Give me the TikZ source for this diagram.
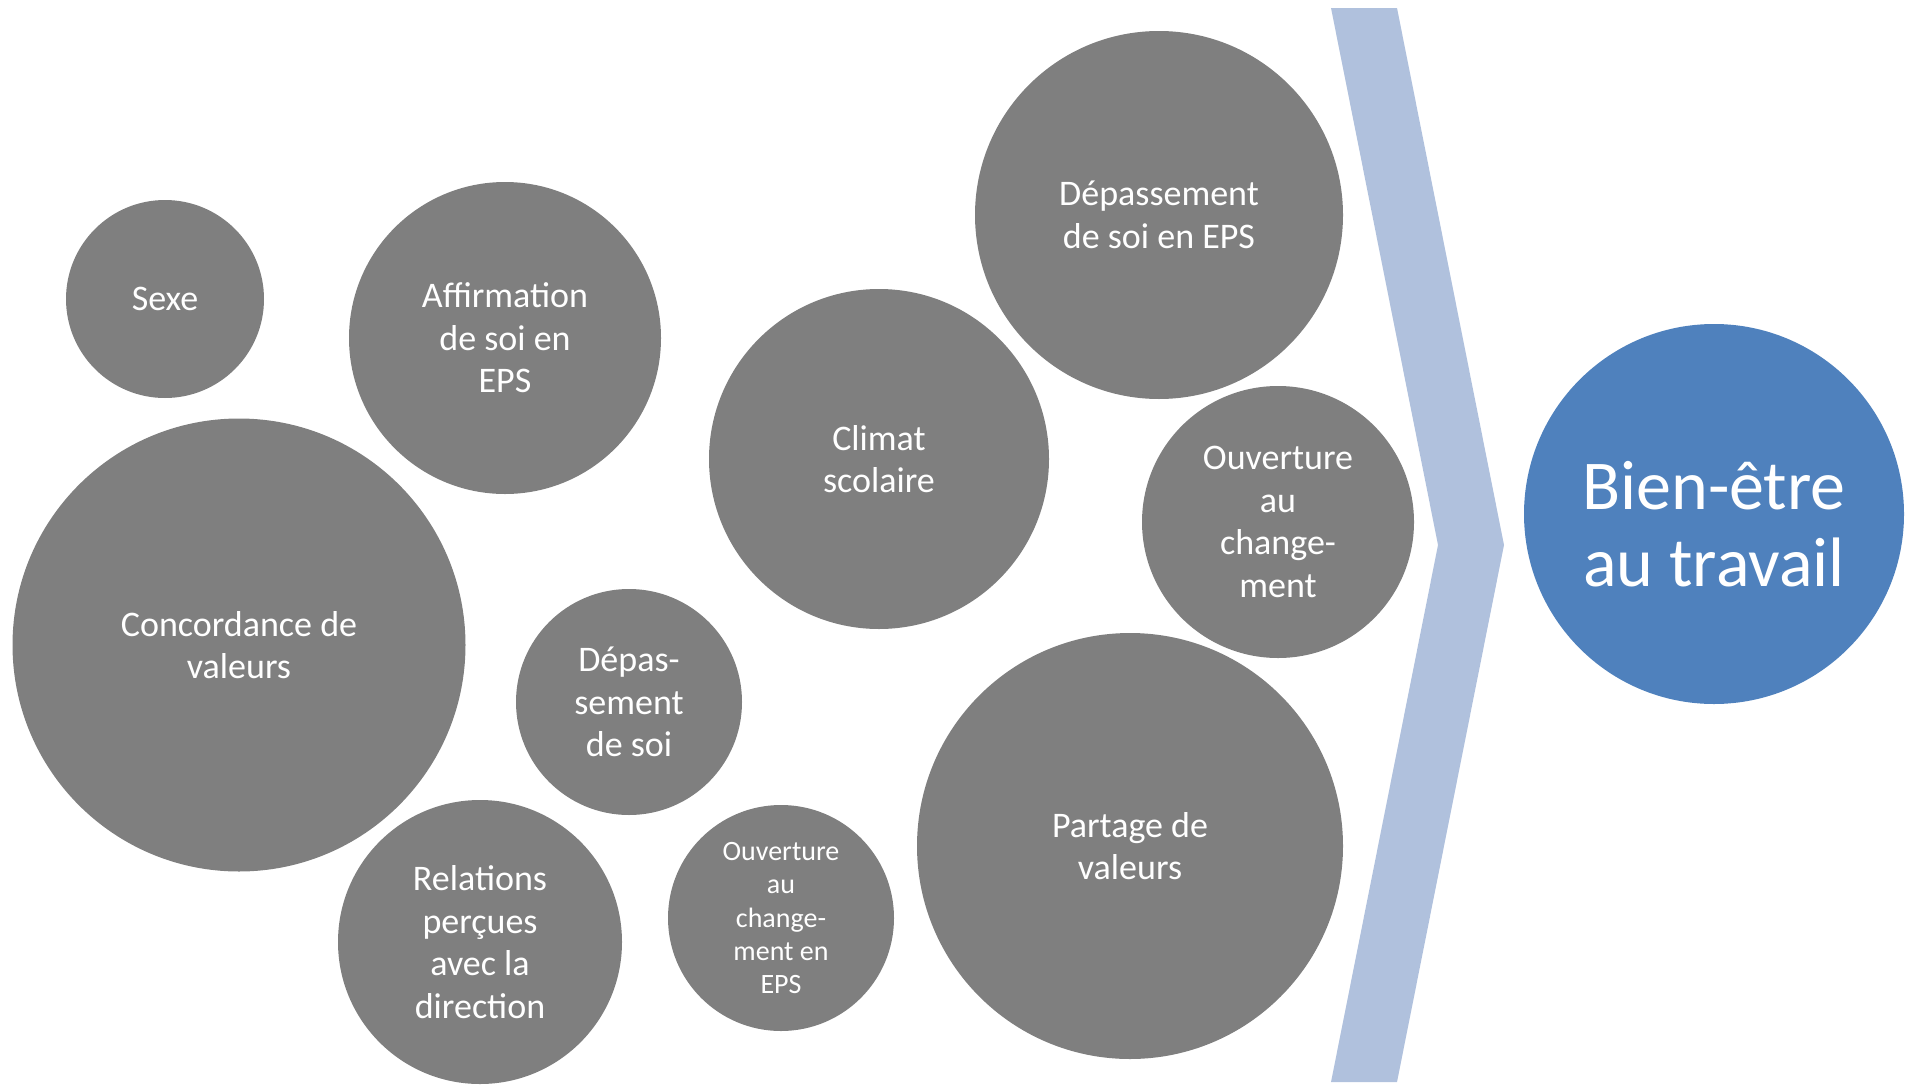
\documentclass[tikz,border=0pt]{standalone}
\usepackage{fontspec}
\setmainfont{Carlito}
\definecolor{bubgray}{HTML}{7F7F7F}
\definecolor{chevblue}{HTML}{B0C1DD}
\definecolor{mainblue}{HTML}{4F81BD}
\tikzset{
  bubble/.style={circle, fill=bubgray, draw=none, inner sep=0pt, outer sep=0pt,
    text=white, align=center, font={\fontsize{36}{42.5}\selectfont}},
  smallbubble/.style={bubble, font={\fontsize{28}{33.4}\selectfont}},
  bigbubble/.style={bubble, fill=mainblue, font={\fontsize{70}{77}\selectfont}},
}
\begin{document}
\begin{tikzpicture}[x=1pt,y=-1pt]
\useasboundingbox (0,0) rectangle (1905,1084);
% chevron
\fill[chevblue] (1331,8) -- (1397,8) -- (1504,545) -- (1397,1082) -- (1331,1082) -- (1438,545) -- cycle;
% bubbles
\node[bubble, minimum size=198pt] (sexe) at (165,299) {Sexe};
\node[bubble, minimum size=312pt] (affirm) at (505,338) {Affirmation\\de soi en\\EPS};
\node[bubble, minimum size=453pt] (concord) at (239,645) {Concordance de\\valeurs};
\node[bubble, minimum size=226pt] (depas) at (629,702) {Dépas-\\sement\\de soi};
\node[bubble, minimum size=284pt] (relat) at (480,942) {Relations\\perçues\\avec la\\direction};
\node[smallbubble, minimum size=226pt] (ouvEPS) at (781,918) {Ouverture\\au\\change-\\ment en\\EPS};
\node[bubble, minimum size=340pt] (climat) at (879,459) {Climat\\scolaire};
\node[bubble, minimum size=368pt] (depasEPS) at (1159,215) {Dépassement\\de soi en EPS};
\node[bubble, minimum size=272pt] (ouv) at (1278,522) {Ouverture\\au\\change-\\ment};
\node[bubble, minimum size=426pt] (partage) at (1130,846) {Partage de\\valeurs};
\node[bigbubble, minimum size=380pt] (bien) at (1714,514) {};
\node[text=white, align=center, font={\fontsize{70}{77}\selectfont}] (bientxt) at (1714,524) {Bien-être\\au travail};
\end{tikzpicture}
\end{document}
